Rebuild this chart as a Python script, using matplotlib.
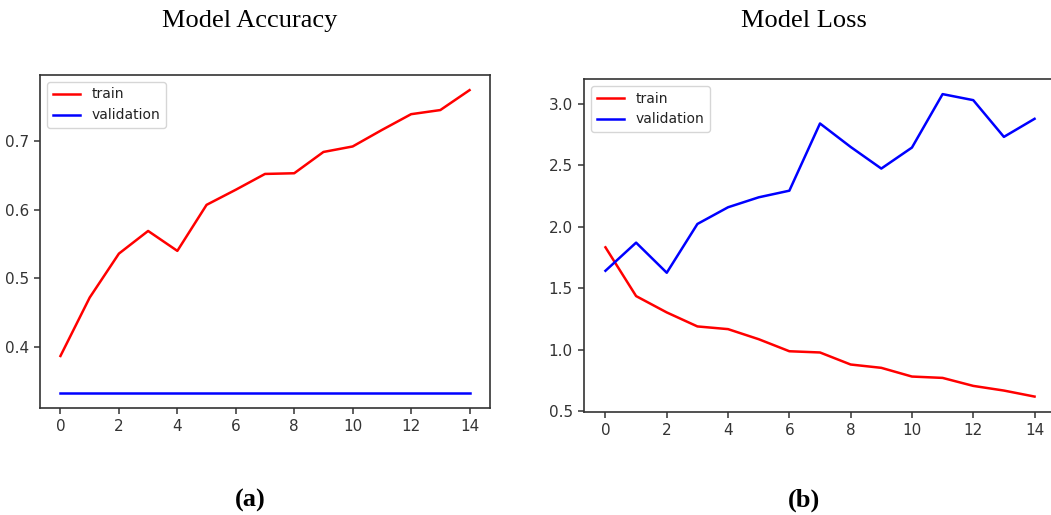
import numpy as np
import matplotlib
matplotlib.use('Agg')
import matplotlib.pyplot as plt

epochs = list(range(15))

acc_train = [0.387, 0.472, 0.536, 0.569, 0.540, 0.607, 0.629, 0.652, 0.653,
             0.684, 0.692, 0.716, 0.739, 0.745, 0.774]
acc_val = [0.3333] * 15

loss_train = [1.832, 1.435, 1.302, 1.188, 1.166, 1.084, 0.986, 0.976, 0.878,
              0.851, 0.780, 0.769, 0.704, 0.666, 0.617]
loss_val = [1.641, 1.870, 1.625, 2.022, 2.158, 2.239, 2.293, 2.840, 2.649,
            2.473, 2.644, 3.079, 3.030, 2.731, 2.878]

titles = ['Model Accuracy', 'Model Loss']
panel_labels = ['(a)', '(b)']

W, H = 1051, 515
fig = plt.figure(figsize=(W / 100, H / 100), dpi=100)

ax1 = fig.add_axes([40 / W, 1 - 408 / H, 450 / W, 333 / H])
ax2 = fig.add_axes([584 / W, 1 - 411.7 / H, 472 / W, 332.7 / H])

ax1.plot(epochs, acc_train, color='red', lw=1.8, label='train')
ax1.plot(epochs, acc_val, color='blue', lw=1.8, label='validation')
ax1.set_yticks([0.4, 0.5, 0.6, 0.7])

ax2.plot(epochs, loss_train, color='red', lw=1.8, label='train')
ax2.plot(epochs, loss_val, color='blue', lw=1.8, label='validation')
ax2.set_yticks([0.5, 1.0, 1.5, 2.0, 2.5, 3.0])

for ax in (ax1, ax2):
    ax.set_xticks(range(0, 15, 2))
    ax.tick_params(labelsize=11, colors='#333333', length=4, width=1.1, pad=4)
    for s in ax.spines.values():
        s.set_color('#333333')
        s.set_linewidth(1.2)
    leg = ax.legend(loc='upper left', fontsize=10, framealpha=0.8)
    for t in leg.get_texts():
        t.set_color('#222222')

serif = ['Liberation Serif', 'DejaVu Serif']
fig.text(250 / W, 1 - 21 / H, titles[0], ha='center', va='center', fontsize=19, family=serif)
fig.text(804 / W, 1 - 21 / H, titles[1], ha='center', va='center', fontsize=19, family=serif)
fig.text(250 / W, 1 - 500 / H, panel_labels[0], ha='center', va='center', fontsize=19,
         family=serif, fontweight='bold')
fig.text(804 / W, 1 - 500 / H, panel_labels[1], ha='center', va='center', fontsize=19,
         family=serif, fontweight='bold')

fig.savefig('out.png', dpi=100)
